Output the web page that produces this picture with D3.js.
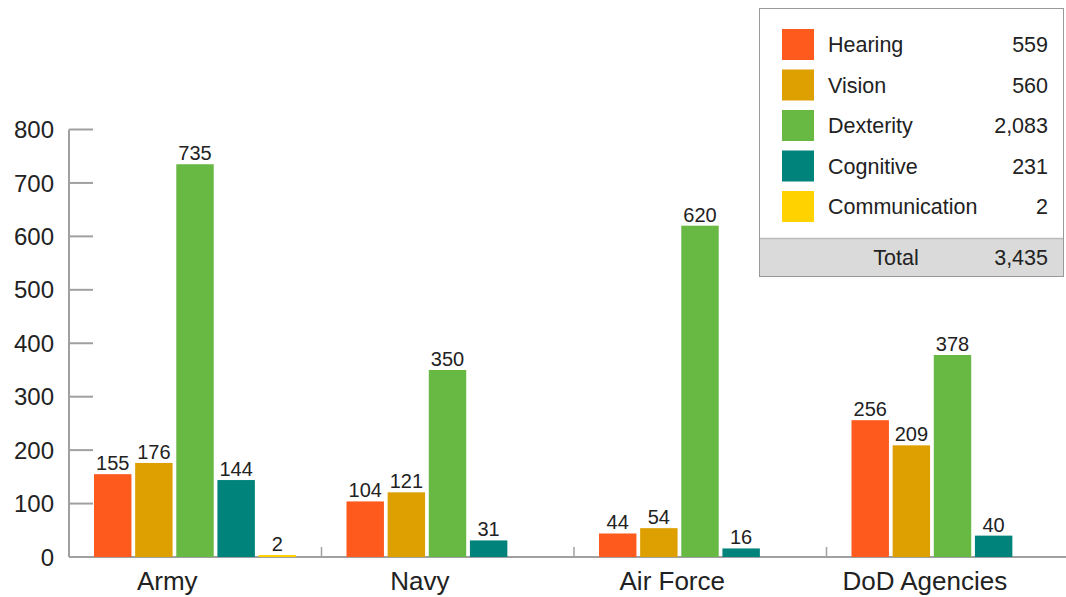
<!DOCTYPE html>
<html>
<head>
<meta charset="utf-8">
<script src="https://cdn.jsdelivr.net/npm/d3@7"></script>
<style>
  html, body { margin: 0; padding: 0; background: #fff; }
  svg { display: block; font-family: "Liberation Sans", Arial, sans-serif; }
</style>
</head>
<body>
<svg class="chart" width="1066" height="597"></svg>
<script>
// data
var branches = ["Army", "Navy", "Air Force", "DoD Agencies"];
var types = ["Hearing", "Vision", "Dexterity", "Cognitive", "Communication"];
var colors = ["#ff5a1e", "#dea000", "#68b944", "#00837a", "#ffd200"];
var hearing = [155, 104, 44, 256];
var vision = [176, 121, 54, 209];
var dexterity = [735, 350, 620, 378];
var cognitive = [144, 31, 16, 40];
var communication = [2, 0, 0, 0];
var yTicks = [0, 100, 200, 300, 400, 500, 600, 700, 800];

var series = [hearing, vision, dexterity, cognitive, communication];

var svg = d3.select(".chart");
var axisColor = "#a0a0a0";
var textColor = "#222";

var y = d3.scaleLinear().domain([0, 800]).range([557, 129.5]);
var x0 = d3.scaleBand().domain(branches).range([69, 1079]);
var x1 = d3.scaleBand().domain(types).range([25, 227]).paddingInner(0.09);
var color = d3.scaleOrdinal().domain(types).range(colors);

// y axis
var yAxis = svg.append("g").attr("class", "y-axis");
yAxis.append("line")
  .attr("x1", 69).attr("x2", 69)
  .attr("y1", y(800)).attr("y2", y(0))
  .attr("stroke", axisColor).attr("stroke-width", 2);
yAxis.selectAll(".tick").data(yTicks).enter().append("line")
  .attr("x1", 69).attr("x2", 93)
  .attr("y1", function (d) { return y(d); })
  .attr("y2", function (d) { return y(d); })
  .attr("stroke", axisColor).attr("stroke-width", 2);
yAxis.selectAll("text").data(yTicks).enter().append("text")
  .attr("x", 54)
  .attr("y", function (d) { return y(d); })
  .attr("dy", "0.36em")
  .attr("text-anchor", "end")
  .attr("font-size", 24)
  .attr("fill", textColor)
  .text(function (d) { return d; });

// x axis
var xAxis = svg.append("g").attr("class", "x-axis");
xAxis.append("line")
  .attr("x1", 69).attr("x2", 1066)
  .attr("y1", y(0)).attr("y2", y(0))
  .attr("stroke", axisColor).attr("stroke-width", 2);
xAxis.selectAll(".tick").data(branches.slice(1)).enter().append("line")
  .attr("x1", function (d) { return x0(d); })
  .attr("x2", function (d) { return x0(d); })
  .attr("y1", y(0) - 10).attr("y2", y(0))
  .attr("stroke", axisColor).attr("stroke-width", 1.5);
xAxis.selectAll("text").data(branches).enter().append("text")
  .attr("x", function (d) { return x0(d) + x1("Dexterity") - 9; })
  .attr("y", 590)
  .attr("text-anchor", "middle")
  .attr("font-size", 26)
  .attr("fill", textColor)
  .text(function (d) { return d; });

// bars
var groups = svg.append("g").selectAll("g")
  .data(branches).enter().append("g")
  .attr("transform", function (d) { return "translate(" + x0(d) + ",0)"; });

groups.each(function (b, bi) {
  var g = d3.select(this);
  var vals = types.map(function (t, ti) { return { type: t, value: series[ti][bi] }; })
    .filter(function (d) { return d.value > 0; });

  g.selectAll("rect").data(vals).enter().append("rect")
    .attr("x", function (d) { return x1(d.type); })
    .attr("width", x1.bandwidth())
    .attr("y", function (d) { return Math.min(y(d.value), y(0) - 2); })
    .attr("height", function (d) { return Math.max(y(0) - y(d.value), 2); })
    .attr("fill", function (d) { return color(d.type); });

  g.selectAll("text").data(vals).enter().append("text")
    .attr("x", function (d) { return x1(d.type) + x1.bandwidth() / 2; })
    .attr("y", function (d) { return Math.min(y(d.value), y(0) - 2) - 4; })
    .attr("text-anchor", "middle")
    .attr("font-size", 20)
    .attr("fill", textColor)
    .text(function (d) { return d.value; });
});

// legend
var totals = series.map(function (s) { return d3.sum(s); });
var grand = d3.sum(totals);
var fmt = d3.format(",");

var legend = svg.append("g").attr("class", "legend");
legend.append("rect")
  .attr("x", 759.5).attr("y", 8.5)
  .attr("width", 304).attr("height", 268)
  .attr("fill", "#fff").attr("stroke", "#999").attr("stroke-width", 1);
legend.append("rect")
  .attr("x", 760).attr("y", 238)
  .attr("width", 303).attr("height", 38)
  .attr("fill", "#dadada");
legend.append("line")
  .attr("x1", 760).attr("x2", 1063)
  .attr("y1", 238.5).attr("y2", 238.5)
  .attr("stroke", "#bbb").attr("stroke-width", 1.5);

var rows = legend.selectAll(".row").data(types).enter().append("g")
  .attr("class", "row")
  .attr("transform", function (d, i) { return "translate(0," + (29 + i * 40.5) + ")"; });
rows.append("rect")
  .attr("x", 782).attr("y", 0)
  .attr("width", 32).attr("height", 31)
  .attr("fill", function (d) { return color(d); });
rows.append("text")
  .attr("x", 828).attr("y", 23)
  .attr("font-size", 21.5)
  .attr("fill", textColor)
  .text(function (d) { return d; });
rows.append("text")
  .attr("x", 1048).attr("y", 23)
  .attr("text-anchor", "end")
  .attr("font-size", 21.5)
  .attr("fill", textColor)
  .text(function (d, i) { return fmt(totals[i]); });

legend.append("text")
  .attr("x", 896).attr("y", 265)
  .attr("text-anchor", "middle")
  .attr("font-size", 21.5)
  .attr("fill", textColor)
  .text("Total");
legend.append("text")
  .attr("x", 1048).attr("y", 265)
  .attr("text-anchor", "end")
  .attr("font-size", 21.5)
  .attr("fill", textColor)
  .text(fmt(grand));
</script>
</body>
</html>
